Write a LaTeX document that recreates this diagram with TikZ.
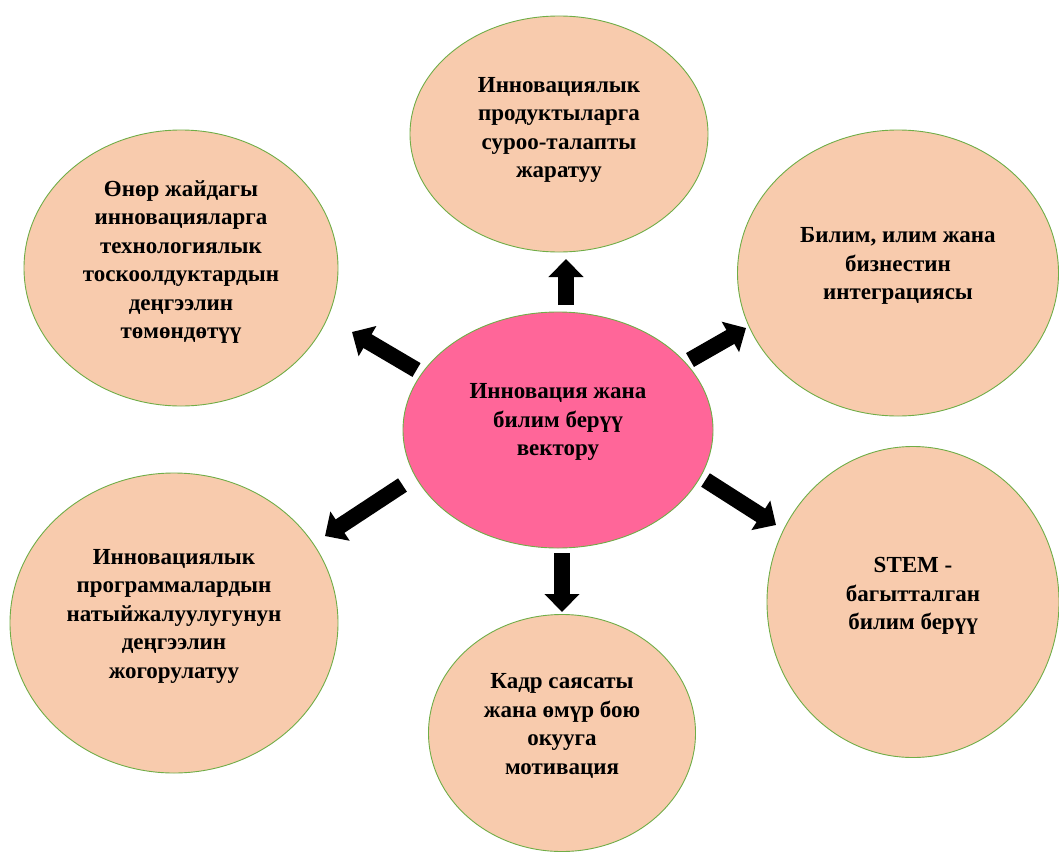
\documentclass[tikz,border=0pt]{standalone}
\usepackage{fontspec}
\setmainfont{Liberation Serif}
\usetikzlibrary{shapes.geometric,arrows.meta}
\definecolor{peach}{HTML}{F8CBAD}
\definecolor{rim}{HTML}{70AD47}
\definecolor{pinkc}{HTML}{FF6699}
\tikzset{
  bubble/.style={ellipse, draw=rim, line width=0.9pt, fill=peach, inner sep=0pt},
  hub/.style={ellipse, draw=rim, line width=0.9pt, fill=pinkc, inner sep=0pt},
  lbl/.style={align=center, font=\fontsize{23}{28.5}\selectfont\bfseries, inner sep=0pt},
  blockarrow/.style={line width=16pt, -{Triangle[length=18pt,width=34pt]}}
}
\begin{document}
\begin{tikzpicture}[x=1pt,y=-1pt]
\useasboundingbox (0,0) rectangle (1059,867);
% ellipses
\node[hub, minimum width=310pt, minimum height=236pt] (c) at (558,430) {};
\node[bubble, minimum width=298pt, minimum height=236pt] (n1) at (559,134) {};
\node[bubble, minimum width=314pt, minimum height=276pt] (n2) at (181,268) {};
\node[bubble, minimum width=321pt, minimum height=286pt] (n3) at (898,273) {};
\node[bubble, minimum width=328pt, minimum height=300pt] (n4) at (174,623) {};
\node[bubble, minimum width=267pt, minimum height=237pt] (n5) at (562,733) {};
\node[bubble, minimum width=292pt, minimum height=311pt] (n6) at (913,602) {};
% labels
\node[lbl] (lc) at ([yshift=8pt]c.center) {Инновация жана\\билим берүү\\вектору};
\node[lbl] (l1) at ([yshift=4pt]n1.center) {Инновациялык\\продуктыларга\\суроо-талапты\\жаратуу};
\node[lbl] (l2) at ([yshift=6pt]n2.center) {Өнөр жайдагы\\инновацияларга\\технологиялык\\тоскоолдуктардын\\деңгээлин\\төмөндөтүү};
\node[lbl] (l3) at ([yshift=7pt]n3.center) {Билим, илим жана\\бизнестин\\интеграциясы};
\node[lbl] (l4) at ([yshift=7pt]n4.center) {Инновациялык\\программалардын\\натыйжалуулугунун\\деңгээлин\\жогорулатуу};
\node[lbl] (l5) at ([yshift=7pt]n5.center) {Кадр саясаты\\жана өмүр бою\\окууга\\мотивация};
\node[lbl] (l6) at ([yshift=6pt]n6.center) {STEM -\\багытталган\\билим берүү};
% arrow ends
\coordinate (a1s) at (566,305); \coordinate (a1e) at (566,259);
\coordinate (a2s) at (416.5,370); \coordinate (a2e) at (352,332);
\coordinate (a3s) at (690,360); \coordinate (a3e) at (746,328);
\coordinate (a4s) at (402.5,485); \coordinate (a4e) at (325,536);
\coordinate (a5s) at (562,553); \coordinate (a5e) at (562,612);
\coordinate (a6s) at (705.5,480); \coordinate (a6e) at (776,525);
\foreach \i in {1,...,6} \draw[blockarrow] (a\i s) -- (a\i e);
\end{tikzpicture}
\end{document}
